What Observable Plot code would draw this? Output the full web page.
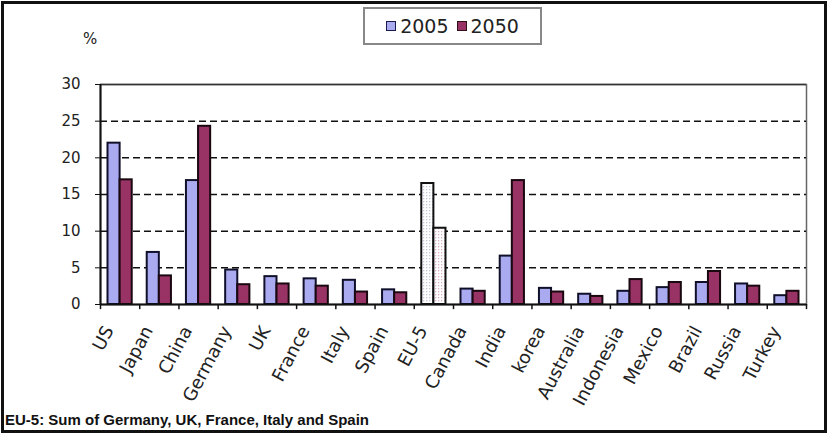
<!DOCTYPE html>
<html>
<head>
<meta charset="utf-8">
<script src="https://cdn.jsdelivr.net/npm/d3@7"></script>
<script src="https://cdn.jsdelivr.net/npm/@observablehq/plot@0.6"></script>
<style>
  html, body { margin: 0; padding: 0; background: #fff; }
  #wrap { position: relative; width: 827px; height: 434px; overflow: hidden; background: #fff; }
  #chart { position: absolute; left: 0; top: 0; }
  #border { position: absolute; left: 1px; top: 1px; width: 820px; height: 426px; border: 3px solid #111; pointer-events: none; }
  #legend { position: absolute; left: 363px; top: 7px; width: 175px; height: 34px; border: 2px solid #888; background: #fff;
            font-family: "DejaVu Sans", sans-serif; font-size: 19px; color: #222; display: flex; align-items: center; justify-content: center; gap: 8px; }
  .item { display: flex; align-items: center; gap: 4px; }
  .sw { width: 8px; height: 8px; border: 1.5px solid #111; display: inline-block; }
  #pct { position: absolute; left: 83px; top: 30px; font-family: "DejaVu Sans", sans-serif; font-size: 15px; color: #222; }
  #foot { position: absolute; left: 5px; top: 411px; font-family: "Liberation Sans", Arial, sans-serif; font-weight: bold; font-size: 15px; color: #111; white-space: nowrap; }
</style>
</head>
<body>
<svg width="0" height="0" style="position:absolute">
  <defs>
    <pattern id="dots05" width="3" height="3" patternUnits="userSpaceOnUse">
      <rect width="3" height="3" fill="#ffffff"></rect>
      <rect x="0" y="0" width="1.3" height="1.3" fill="#c4c4dc"></rect>
    </pattern>
    <pattern id="dots50" width="3" height="3" patternUnits="userSpaceOnUse">
      <rect width="3" height="3" fill="#ffffff"></rect>
      <rect x="0" y="0" width="1.3" height="1.3" fill="#dcb0c4"></rect>
    </pattern>
  </defs>
</svg>
<div id="wrap">
  <div id="chart"></div>
  <div id="pct">%</div>
  <div id="legend">
    <span class="item"><span class="sw" style="background:#aaaaf0;border-color:#1a1a50"></span><span>2005</span></span>
    <span class="item"><span class="sw" style="background:#993366;border-color:#301018"></span><span>2050</span></span>
  </div>
  <div id="foot">EU-5: Sum of Germany, UK, France, Italy and Spain</div>
  <div id="border"></div>
</div>
<script>
const countries = ["US","Japan","China","Germany","UK","France","Italy","Spain","EU-5","Canada","India","korea","Australia","Indonesia","Mexico","Brazil","Russia","Turkey"];
const v2005 = [22.0, 7.1, 16.9, 4.7, 3.8, 3.5, 3.3, 2.0, 16.5, 2.1, 6.6, 2.2, 1.4, 1.8, 2.3, 3.0, 2.8, 1.2];
const v2050 = [17.0, 3.9, 24.3, 2.7, 2.8, 2.5, 1.7, 1.6, 10.4, 1.8, 16.9, 1.7, 1.1, 3.4, 3.0, 4.5, 2.5, 1.8];
const yTicks = [0, 5, 10, 15, 20, 25, 30];

const rows = countries.map((c, i) => ({country: c, v2005: v2005[i], v2050: v2050[i]}));
const normal = rows.filter(d => d.country !== "EU-5");
const eu = rows.filter(d => d.country === "EU-5");

const W = 827, ML = 100, MR = 21;
const half = (W - ML - MR) / countries.length / 2;
const inner = 7.5;

const chart = Plot.plot({
  width: W,
  height: 434,
  marginTop: 84,
  marginBottom: 130,
  marginLeft: ML,
  marginRight: MR,
  style: {fontFamily: "DejaVu Sans, sans-serif", background: "transparent", color: "#222", overflow: "visible"},
  x: {type: "band", domain: countries, padding: 0, round: false},
  y: {domain: [0, 30]},
  marks: [
    Plot.frame({stroke: "#666", strokeWidth: 1.5}),
    Plot.gridY(yTicks.filter(t => t > 0 && t < 30), {stroke: "#111", strokeOpacity: 1, strokeWidth: 1.5, strokeDasharray: "7,4"}),
    Plot.ruleY([30], {stroke: "#333", strokeWidth: 1.5}),
    Plot.barY(normal, {x: "country", y: "v2005", fill: "#aaaaf0", stroke: "#10102a", strokeWidth: 2, insetLeft: inner, insetRight: half}),
    Plot.barY(normal, {x: "country", y: "v2050", fill: "#993366", stroke: "#1a0810", strokeWidth: 2, insetLeft: half, insetRight: inner}),
    Plot.barY(eu, {x: "country", y: "v2005", fill: "url(#dots05)", stroke: "#111", strokeWidth: 2, insetLeft: inner, insetRight: half}),
    Plot.barY(eu, {x: "country", y: "v2050", fill: "url(#dots50)", stroke: "#111", strokeWidth: 2, insetLeft: half, insetRight: inner}),
    Plot.ruleY([0], {stroke: "#111", strokeWidth: 2}),
    Plot.ruleX([countries[0]], {dx: -half, y1: 0, y2: 30, stroke: "#111", strokeWidth: 2}),
    Plot.ruleX(countries, {x: d => d, dx: -half, y1: 0, y2: -0.7, stroke: "#111", strokeWidth: 1.5}),
    Plot.ruleX([countries[countries.length - 1]], {dx: half, y1: 0, y2: -0.7, stroke: "#111", strokeWidth: 1.5}),
    Plot.axisY({ticks: yTicks, tickSize: 5, tickPadding: 15, fontSize: 15, label: null, stroke: "#111"}),
    Plot.axisX({tickSize: 0, tickPadding: 18, dx: -11, dy: 5, tickRotate: -62, fontSize: 18, label: null})
  ]
});
document.getElementById("chart").appendChild(chart);
</script>
</body>
</html>
